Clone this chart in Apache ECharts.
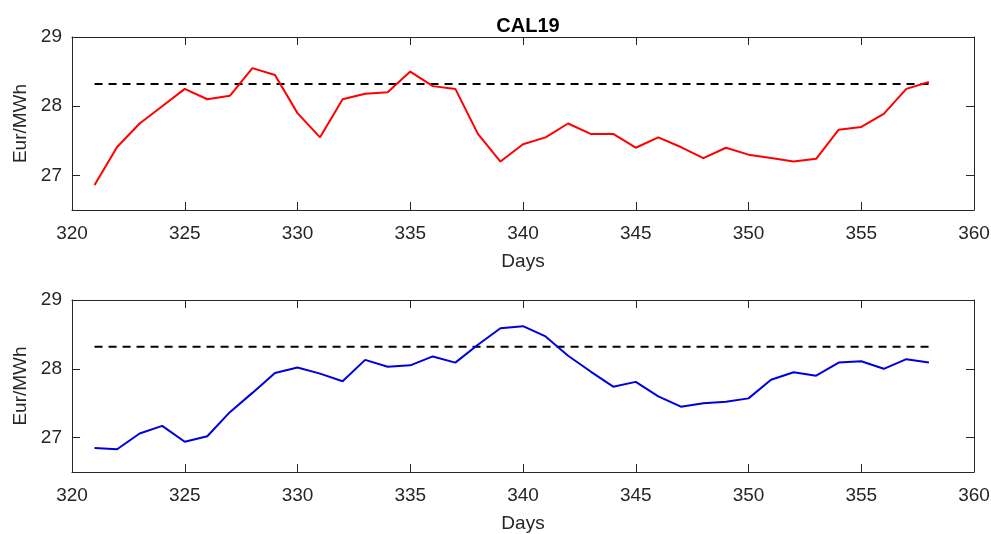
<!DOCTYPE html>
<html>
<head>
<meta charset="utf-8">
<title>CAL19</title>
<script src="https://cdn.jsdelivr.net/npm/echarts@6/dist/echarts.min.js"></script>
<style>
  html, body { margin: 0; padding: 0; background: #fff; }
  #chart { width: 991px; height: 534px; }
</style>
</head>
<body>
<div id="chart"></div>
<script>
// Trading days
const days = [321, 322, 323, 324, 325, 326, 327, 328, 329, 330,
              331, 332, 333, 334, 335, 336, 337, 338, 339, 340,
              341, 342, 343, 344, 345, 346, 347, 348, 349, 350,
              351, 352, 353, 354, 355, 356, 357, 358];

// Upper panel price (Eur/MWh)
const upperPrice = [26.86, 27.41, 27.75, 28.00, 28.25, 28.10, 28.15, 28.55, 28.45, 27.90,
                    27.55, 28.10, 28.18, 28.20, 28.50, 28.29, 28.25, 27.60, 27.20, 27.45,
                    27.55, 27.75, 27.60, 27.60, 27.40, 27.55, 27.41, 27.25, 27.40, 27.30,
                    27.25, 27.20, 27.24, 27.66, 27.70, 27.89, 28.25, 28.35];

// Lower panel price (Eur/MWh)
const lowerPrice = [26.85, 26.83, 27.06, 27.17, 26.94, 27.02, 27.37, 27.65, 27.94, 28.02,
                    27.93, 27.82, 28.13, 28.03, 28.05, 28.18, 28.09, 28.35, 28.59, 28.62,
                    28.47, 28.19, 27.96, 27.74, 27.81, 27.60, 27.45, 27.50, 27.52, 27.57,
                    27.84, 27.95, 27.90, 28.09, 28.11, 28.00, 28.14, 28.09];

// Reference level shown as a dashed line in both panels
const refLevel = 28.32;

const xTicks = [320, 325, 330, 335, 340, 345, 350, 355, 360];
const yTicks = [27, 28, 29];

const FONT = 'Liberation Sans, Arial, Helvetica, sans-serif';
const AXIS_COLOR = '#262626';
const FONT_SIZE = 19;

const pairs = (xs, ys) => xs.map((x, i) => [x, ys[i]]);
const refLine = [[days[0], refLevel], [days[days.length - 1], refLevel]];

function xAxisFor(gridIndex, position, showLabels) {
  return {
    type: 'value', gridIndex, position,
    min: xTicks[0], max: xTicks[xTicks.length - 1], interval: 5,
    name: showLabels ? 'Days' : '',
    nameLocation: 'middle', nameGap: 42,
    nameTextStyle: { fontFamily: FONT, fontSize: FONT_SIZE, color: AXIS_COLOR },
    axisLine: { show: true, onZero: false, lineStyle: { color: AXIS_COLOR, width: 1 } },
    axisTick: { show: true, inside: true, length: 8, lineStyle: { color: AXIS_COLOR } },
    axisLabel: { show: showLabels, fontFamily: FONT, fontSize: FONT_SIZE, color: AXIS_COLOR, margin: 14 },
    splitLine: { show: false }
  };
}

function yAxisFor(gridIndex, position, showLabels) {
  return {
    type: 'value', gridIndex, position,
    min: 26.5, max: 29, interval: 0.5,
    name: showLabels ? 'Eur/MWh' : '',
    nameLocation: 'middle', nameGap: 40, nameRotate: 90,
    nameTextStyle: { fontFamily: FONT, fontSize: FONT_SIZE, color: AXIS_COLOR },
    axisLine: { show: true, onZero: false, lineStyle: { color: AXIS_COLOR, width: 1 } },
    axisTick: {
      show: true, inside: true, length: 8, lineStyle: { color: AXIS_COLOR },
      customValues: yTicks
    },
    axisLabel: {
      show: showLabels, fontFamily: FONT, fontSize: FONT_SIZE, color: AXIS_COLOR, margin: 10,
      customValues: yTicks
    },
    splitLine: { show: false }
  };
}

const chart = echarts.init(document.getElementById('chart'), null, { renderer: 'canvas' });

chart.setOption({
  backgroundColor: '#ffffff',
  animation: false,
  title: {
    text: 'CAL19', left: 523, top: 11, textAlign: 'center',
    textStyle: { fontFamily: FONT, fontSize: 20, fontWeight: 'bold', color: '#000' }
  },
  grid: [
    { left: 72, top: 37, width: 902, height: 173, containLabel: false, outerBoundsMode: 'none' },
    { left: 72, top: 300, width: 902, height: 172, containLabel: false, outerBoundsMode: 'none' }
  ],
  xAxis: [
    xAxisFor(0, 'bottom', true), xAxisFor(0, 'top', false),
    xAxisFor(1, 'bottom', true), xAxisFor(1, 'top', false)
  ],
  yAxis: [
    yAxisFor(0, 'left', true), yAxisFor(0, 'right', false),
    yAxisFor(1, 'left', true), yAxisFor(1, 'right', false)
  ],
  series: [
    {
      type: 'line', xAxisIndex: 0, yAxisIndex: 0, data: pairs(days, upperPrice),
      symbol: 'none', lineStyle: { color: '#ff0000', width: 2 }, z: 3
    },
    {
      type: 'line', xAxisIndex: 0, yAxisIndex: 0, data: refLine,
      symbol: 'none', lineStyle: { color: '#000', width: 2, type: [8, 6] }, z: 2
    },
    {
      type: 'line', xAxisIndex: 2, yAxisIndex: 2, data: pairs(days, lowerPrice),
      symbol: 'none', lineStyle: { color: '#0000dd', width: 2 }, z: 3
    },
    {
      type: 'line', xAxisIndex: 2, yAxisIndex: 2, data: refLine,
      symbol: 'none', lineStyle: { color: '#000', width: 2, type: [8, 6] }, z: 2
    }
  ]
});
</script>
</body>
</html>
